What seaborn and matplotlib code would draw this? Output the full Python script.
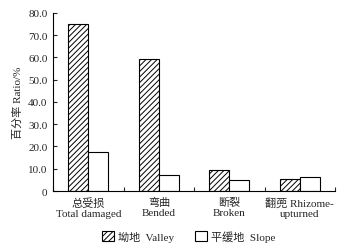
import matplotlib
matplotlib.use("Agg")
import matplotlib.pyplot as plt
import pandas as pd
import seaborn as sns
from matplotlib.patches import Patch

# dados
categorias = ["总受损\nTotal damaged", "弯曲\nBended", "断裂\nBroken", "翻蔸 Rhizome-\nupturned"]
valley = [75.0, 59.5, 9.3, 5.6]
slope = [17.7, 7.2, 5.1, 6.2]
series_labels = ["坳地  Valley", "平缓地  Slope"]
yticks = [0, 10, 20, 30, 40, 50, 60, 70, 80]

df = pd.DataFrame({
    "cat": categorias * 2,
    "val": valley + slope,
    "site": ["Valley"] * len(valley) + ["Slope"] * len(slope),
})

sns.set_theme(style="ticks")
plt.rcParams["font.family"] = ["Liberation Serif", "Noto Sans CJK SC"]
plt.rcParams["hatch.linewidth"] = 0.7
plt.rcParams["hatch.color"] = "black"

fig = plt.figure(figsize=(3.43, 2.53), dpi=100)
ax = fig.add_axes([0.155, 0.241, 0.822, 0.704])

sns.barplot(data=df, x="cat", y="val", hue="site", hue_order=["Valley", "Slope"],
            palette={"Valley": "white", "Slope": "white"}, edgecolor="black",
            linewidth=0.8, width=0.57, legend=False, ax=ax)
for bar in ax.containers[0]:
    bar.set_hatch("//////")

ax.set_ylim(0, 80)
ax.set_xlim(-0.5, 3.5)
ax.set_yticks(yticks)
ax.set_yticklabels(["0"] + [f"{v:.1f}" for v in yticks[1:]], fontsize=8)
ax.set_xticks(range(len(categorias)))
ax.set_xticklabels(categorias, fontsize=8, linespacing=1.25)
ax.tick_params(axis="x", length=0, pad=4)
ax.set_xticks([-0.5, 0.5, 1.5, 2.5, 3.5], minor=True)
ax.tick_params(axis="x", which="minor", direction="in", length=3, width=0.8)
ax.tick_params(axis="y", direction="in", length=3, width=0.8, pad=4)
ax.set_xlabel("")
ax.set_ylabel("百分率 Ratio/%", fontsize=8, labelpad=4)
sns.despine(ax=ax)
for s in ["left", "bottom"]:
    ax.spines[s].set_linewidth(0.8)
    ax.spines[s].set_color("black")

handles = [Patch(facecolor="white", edgecolor="black", hatch="//////", linewidth=0.8),
           Patch(facecolor="white", edgecolor="black", linewidth=0.8)]
fig.legend(handles, series_labels, loc="center", bbox_to_anchor=(0.55, 0.063), ncol=2,
           frameon=False, fontsize=8, handlelength=1.1, handleheight=1.1,
           handletextpad=0.4, columnspacing=1.8)

fig.savefig("out.png", dpi=100)
